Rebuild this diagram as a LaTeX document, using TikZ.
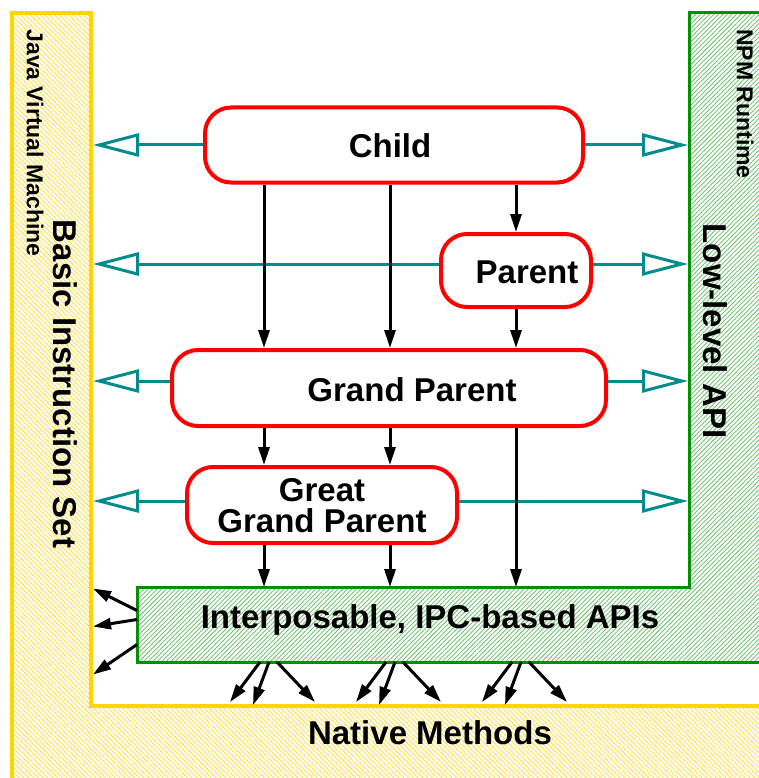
\documentclass[tikz,border=0pt]{standalone}
\usepackage{fontspec}
\setmainfont{Liberation Sans}
\usepackage{xcolor}
\usepackage{tikz}
\usetikzlibrary{arrows.meta, positioning, calc, patterns.meta}
\definecolor{famred}{RGB}{255,0,0}
\definecolor{apiteal}{RGB}{0,140,140}
\definecolor{jvmgold}{RGB}{255,214,0}
\definecolor{npmgreen}{RGB}{0,145,0}
\tikzset{
	famnode/.style={draw=famred, line width=4pt, rounded corners=26pt, fill=white, inner sep=0pt},
	famtext/.style={align=center, inner sep=0pt},
	layerbig/.style={inner sep=0pt, rotate=-90},
	layersmall/.style={inner sep=0pt, rotate=-90, font=\bfseries\fontsize{23}{26}\selectfont},
	api/.style={draw=apiteal, line width=3pt, -{Triangle[open, length=46pt, width=23pt]}},
	call/.style={line width=3pt, -{Triangle[length=18pt, width=11pt]}},
	jvmlayer/.style={draw=jvmgold, line width=3.5pt, pattern={Lines[angle=-45, distance=3.4pt, line width=0.9pt]}, pattern color=jvmgold!75},
	npmlayer/.style={draw=npmgreen, line width=3pt, pattern={Lines[angle=45, distance=3.2pt, line width=0.9pt]}, pattern color=npmgreen!55}
}

\begin{document}
\begin{tikzpicture}[x=1pt, y=-1pt, font=\bfseries\fontsize{33}{31}\selectfont]
	\useasboundingbox (0,0) rectangle (759,778);
	% the two runtimes
	\draw[jvmlayer] (12,13) -- (91,13) -- (91,706) -- (775,706) -- (775,795) -- (12,795) -- cycle;
	\draw[npmlayer] (689,13) -- (775,13) -- (775,662) -- (137,662) -- (137,587) -- (689,587) -- cycle;
	\node[layersmall] (jvmname) at (35,143) {Java Virtual Machine};
	\node[layerbig] (bis) at (65,384) {Basic Instruction Set};
	\node[layersmall] (npmname) at (745,104) {NPM Runtime};
	\node[layerbig] (lowapi) at (715,331) {Low-level API};
	\node (native) at (430,733) {Native Methods};
	\node[inner sep=0pt, outer sep=0pt, minimum width=622, minimum height=75] (ipc) at (448,624.5) {};
	\node[anchor=base, inner sep=0pt] (ipctext) at (430,628) {Interposable, IPC-based APIs};
	% class loaders
	\node[famnode, minimum width=378, minimum height=75] (child) at (394,145) {};
	\node[famtext] (childtext) at (390,146) {Child};
	\node[famnode, minimum width=150, minimum height=73] (parent) at (516,270.5) {};
	\node[famtext] (parenttext) at (527,272) {Parent};
	\node[famnode, minimum width=434, minimum height=76] (gp) at (389,388) {};
	\node[famtext] (gptext) at (412,390) {Grand Parent};
	\node[famnode, minimum width=270, minimum height=76] (ggp) at (322,505) {};
	\node[famtext] (ggptext) at (322,506) {Great\\Grand Parent};
	% faces and lanes
	\coordinate (jvmface) at (93,0);
	\coordinate (npmface) at (688,0);
	\coordinate (prow) at (0,264);
	\coordinate (gprow) at (0,381);
	\coordinate (ggprow) at (0,501);
	\coordinate (lane1) at (264,0);
	\coordinate (lane2) at (390,0);
	\coordinate (lane3) at (516,0);
	\draw[api] (child.west) -- (child.west -| jvmface);
	\draw[api] (child.east) -- (child.east -| npmface);
	\draw[api] (parent.west |- prow) -- (jvmface |- prow);
	\draw[api] (parent.east |- prow) -- (npmface |- prow);
	\draw[api] (gp.west |- gprow) -- (jvmface |- gprow);
	\draw[api] (gp.east |- gprow) -- (npmface |- gprow);
	\draw[api] (ggp.west |- ggprow) -- (jvmface |- ggprow);
	\draw[api] (ggp.east |- ggprow) -- (npmface |- ggprow);
	\foreach \l in {lane1,lane2}{
		\draw[call] (child.south -| \l) -- (gp.north -| \l);
		\draw[call] (gp.south -| \l) -- (ggp.north -| \l);
		\draw[call] (ggp.south -| \l) -- (ipc.north -| \l);
	}
	\draw[call] (child.south -| lane3) -- (parent.north -| lane3);
	\draw[call] (parent.south -| lane3) -- (gp.north -| lane3);
	\draw[call] (gp.south -| lane3) -- (ipc.north -| lane3);
	% out of the IPC layer
	\foreach \oy/\dy in {14/-22, 5/7, -20/30}
		\draw[call] ([yshift=\oy]ipc.west) -- ++(-44,\dy);
	\foreach \l in {lane1,lane2,lane3}
		\foreach \ox/\dx/\dy in {-4/-30/40, 5/-16/43, 13/38/40}
			\draw[call] ($(ipc.south -| \l)+(\ox,0)$) -- ++(\dx,\dy);
\end{tikzpicture}
\end{document}
